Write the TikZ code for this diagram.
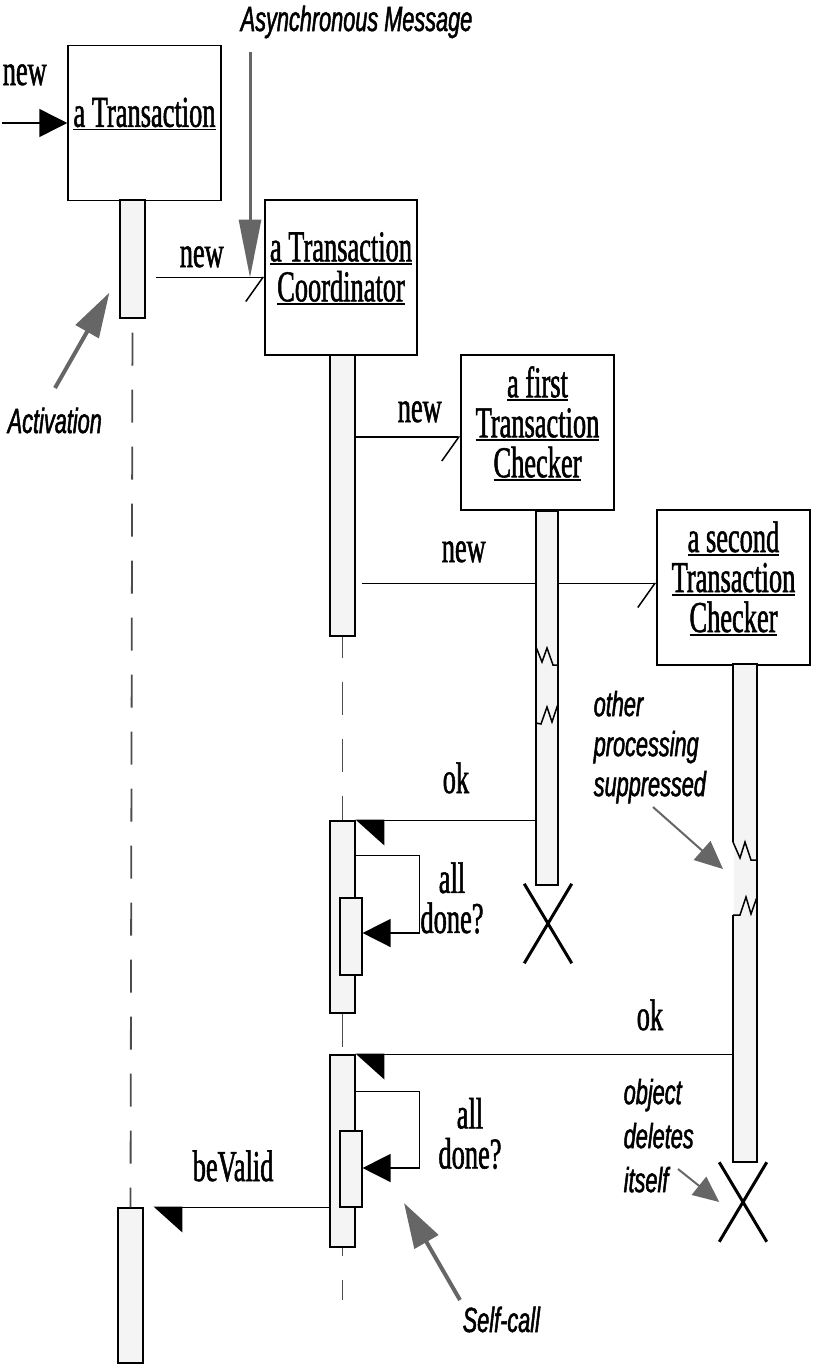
\documentclass[tikz,border=0pt]{standalone}
\usepackage{fontspec}
\setmainfont{Liberation Serif}[FakeStretch=0.6, FakeBold=1.2]
\newfontfamily\notefont{Liberation Sans}[FakeStretch=0.62, FakeBold=1.4]
\usetikzlibrary{arrows.meta, positioning, calc}
\definecolor{cnote}{HTML}{666666}
\definecolor{cbar}{HTML}{F4F4F4}
\newcommand{\ulined}[1]{\vtop{\hbox{#1}\kern1.5pt\hrule height 1.6pt}}
\tikzset{
  every picture/.style={line width=1.5pt},
  obj/.style={draw, minimum width=153pt, minimum height=155pt, inner sep=0pt},
  objname/.style={align=center, inner sep=0pt, font=\fontsize{44}{40}\selectfont},
  msg/.style={font=\fontsize{44}{40}\selectfont, inner sep=0pt, anchor=base west},
  bar/.style={draw, fill=cbar, line width=1.2pt, minimum width=25pt, inner sep=0pt},
  life/.style={draw=black!70, line width=1.8pt, dash pattern=on 33pt off 24pt},
  sync/.style={-{Triangle[length=28pt, width=28pt]}},
  async/.style={-{Straight Barb[harpoon, swap, length=17pt, width=48pt]}},
  reply/.style={-{Triangle[harpoon, length=28pt, width=50pt]}},
  note/.style={font=\notefont\itshape\fontsize{35}{40}\selectfont, inner sep=0pt, align=left},
  pointer/.style={draw=cnote, line width=#1},
  xmark/.style={minimum width=46pt, minimum height=78pt, inner sep=0pt},
  cross/.style={line width=3pt},
  thickedge/.style={line width=2.8pt},
}
\begin{document}
\begin{tikzpicture}[x=1pt, y=-1pt]
  \useasboundingbox (0,0) rectangle (815,1369);
  % objects
  \node[obj] (trans) at (144.5,123) {};
  \node[objname] (transname) at ([yshift=9pt]trans.center) {\ulined{a Transaction}};
  \node[obj, minimum width=152pt] (coord) at (341,277.5) {};
  \node[objname] (coordname) at ([yshift=9pt]coord.center) {\ulined{a Transaction}\\\ulined{Coordinator}};
  \node[obj] (first) at (537.5,432.5) {};
  \node[objname] (firstname) at ([yshift=9pt]first.center) {\ulined{a first}\\\ulined{Transaction}\\\ulined{Checker}};
  \node[obj] (second) at (733.5,587.5) {};
  \node[objname] (secondname) at ([yshift=9pt]second.center) {\ulined{a second}\\\ulined{Transaction}\\\ulined{Checker}};

  % activations
  \node[bar, minimum height=118pt] (tbar1) at (132.5,259) {};
  \node[bar, minimum height=155pt] (tbar2) at (130.5,1285.5) {};
  \node[bar, minimum height=281pt] (cbar1) at (342.5,495.5) {};
  \node[bar, minimum width=24pt, minimum height=498pt] (sbar) at (745,913) {};

  % messages
  \coordinate (newsrc) at (2,123);
  \draw[sync] (newsrc) -- (trans.west);
  \node[msg] (newlbl0) at (2,85) {new};
  \draw[async] ($(tbar1.east |- coord.west)+(10,0)$) -- (coord.west);
  \node[msg] (newlbl1) at (179,267) {new};
  \coordinate (fnew) at ($(first.west)+(0,4.5)$);
  \draw[async] (cbar1.east |- fnew) -- (fnew);
  \node[msg] (newlbl2) at (397,422) {new};
  \coordinate (snew) at ($(second.west)+(0,-4)$);
  \draw[async] ($(cbar1.east |- snew)+(6,0)$) -- (snew);
  \node[msg] (newlbl3) at (441,562) {new};
  \node[bar, minimum width=22pt, minimum height=374pt] (fbar) at (547,698) {};

  % lifelines
  \draw[life, dash phase=43pt] (tbar1.south) -- (tbar2.north);
  \node[bar, minimum height=192pt] (cbar2) at (342.5,917) {};
  \node[bar, minimum height=192pt] (cbar3) at (342.5,1151) {};
  \draw[life, dash phase=12pt] (cbar1.south) -- (cbar2.north);
  \draw[life] (cbar2.south) -- (cbar3.north);
  \coordinate (cend) at (342.5,1300);
  \draw[life, dash phase=25pt] (cbar3.south) -- (cend);
  \node[bar, minimum width=22pt, minimum height=77pt] (cnest1) at (351,936.5) {};
  \node[bar, minimum width=22pt, minimum height=76pt] (cnest2) at (351,1169) {};

  % replies and self-calls
  \draw[reply] (fbar.west |- cbar2.north) -- (cbar2.north east);
  \node[msg] (oklbl1) at (442,793) {ok};
  \draw[sync] ($(cbar2.north east)+(0,35)$) -- ++(64,0) |- ($(cnest1.east)+(0,-3.5)$);
  \node[objname] (donelbl1) at (452,898) {all\\done?};
  \draw[reply] (sbar.west |- cbar3.north) -- (cbar3.north east);
  \node[msg] (oklbl2) at (636,1030) {ok};
  \draw[sync] ($(cbar3.north east)+(0,37)$) -- ++(64,0) |- ($(cnest2.east)+(0,-1)$);
  \node[objname] (donelbl2) at (470,1133.5) {all\\done?};
  \draw[reply] (cbar3.west |- tbar2.north) -- ($(tbar2.north east)+(10,0)$);
  \node[msg] (validlbl) at (192,1181) {beValid};

  % suppressed processing
  \draw[thickedge] (536,627) -- (536,647);
  \draw (536,647) -- (542,662) -- (547,648) -- (553,665) -- (558,665);
  \draw[thickedge] (558,630) -- (558,665);
  \draw (558,704) -- (552,722) -- (547,707) -- (541,724) -- (536,723);
  \draw[thickedge] (536,723) -- (536,743);
  \fill[white] (731.8,842) rectangle (734,915);
  \draw (733,842) -- (740,858) -- (745,842) -- (751,860) -- (757,860);
  \draw[thickedge] (757,818) -- (757,860);
  \draw (757,897) -- (751,914) -- (746,897) -- (740,915) -- (733,915);
  \draw[thickedge] (757,897) -- (757,937);

  % deletions
  \node[xmark] (fend) at (548,923.5) {};
  \draw[cross] (fend.north west) -- (fend.south east) (fend.north east) -- (fend.south west);
  \node[xmark] (send) at (743,1202) {};
  \draw[cross] (send.north west) -- (send.south east) (send.north east) -- (send.south west);

  % notes
  \node[note, anchor=base west] (asynclbl) at (240,31) {Asynchronous Message};
  \coordinate (asyncfrom) at (250,52);
  \draw[pointer=3pt, -{Triangle[length=58pt, width=22pt]}] (asyncfrom) -- (asyncfrom |- coord.west);
  \node[note, anchor=base west] (actlbl) at (7,433) {Activation};
  \coordinate (actfrom) at (55,388);
  \draw[pointer=4pt, -{Triangle[length=45pt, width=26pt]}] (actfrom) -- ($(tbar1.south west)+(-10,-26)$);
  \node[note, anchor=north west] (otherlbl) at (593,690) {other\\processing\\suppressed};
  \coordinate (otherfrom) at (653,807);
  \coordinate (othertip) at (723,869);
  \draw[pointer=2pt, -{Triangle[length=28pt, width=25pt]}] (otherfrom) -- (othertip);
  \node[note, anchor=north west, font=\notefont\itshape\fontsize{35}{44}\selectfont] (objlbl) at (623,1078) {object\\deletes\\itself};
  \coordinate (objfrom) at (678,1169);
  \draw[pointer=2pt, -{Triangle[length=26pt, width=23pt]}] (objfrom) -- (send.west);
  \node[note, anchor=base west] (selflbl) at (462,1332) {Self-call};
  \coordinate (selffrom) at (460,1300);
  \coordinate (selftip) at (404,1203);
  \draw[pointer=4pt, -{Triangle[length=45pt, width=27pt]}] (selffrom) -- (selftip);
\end{tikzpicture}
\end{document}
